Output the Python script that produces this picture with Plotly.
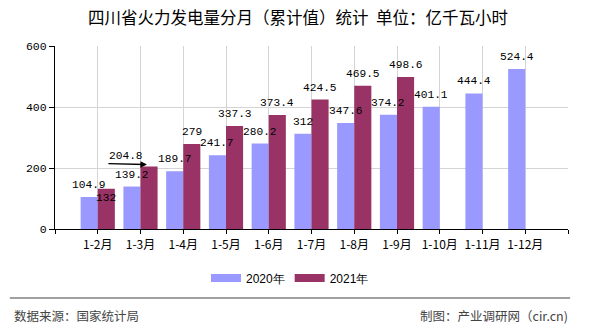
import plotly.graph_objects as go

categories = ["1-2月", "1-3月", "1-4月", "1-5月", "1-6月", "1-7月", "1-8月", "1-9月", "1-10月", "1-11月", "1-12月"]
values_2020 = [104.9, 139.2, 189.7, 241.7, 280.2, 312, 347.6, 374.2, 401.1, 444.4, 524.4]
values_2021 = [132, 204.8, 279, 337.3, 373.4, 424.5, 469.5, 498.6]
series_names = ["2020年", "2021年"]
y_ticks = [0, 200, 400, 600]

COL_2020 = "#9999FF"
COL_2021 = "#993366"
NUM_FONT = dict(family="Liberation Mono, DejaVu Sans Mono, monospace", size=11.2, color="#000000")
CJK = "Noto Sans CJK SC, Noto Sans, sans-serif"

x_idx = list(range(len(categories)))

fig = go.Figure()
fig.add_trace(go.Bar(x=x_idx, y=values_2020, name=series_names[0], marker=dict(color=COL_2020, line=dict(width=0)),
                     showlegend=False, hoverinfo="skip"))
fig.add_trace(go.Bar(x=x_idx[:len(values_2021)], y=values_2021, name=series_names[1],
                     marker=dict(color=COL_2021, line=dict(width=0)), showlegend=False, hoverinfo="skip"))
# legend entries (wide flat swatches)
for name, col in zip(series_names, [COL_2020, COL_2021]):
    fig.add_trace(go.Scatter(x=[None], y=[None], mode="lines", name=name, line=dict(color=col, width=8)))

annotations = []
for i, v in enumerate(values_2020):
    annotations.append(dict(x=i - 0.2, y=v, text=f"{v:g}", showarrow=False, yanchor="bottom", yshift=4,
                            font=NUM_FONT))
for i, v in enumerate(values_2021):
    a = dict(x=i + 0.2, y=v, text=f"{v:g}", showarrow=False, yanchor="bottom", yshift=4, font=NUM_FONT)
    if i == 0:
        a.update(yanchor="middle", yshift=-9)
    if i == 1:
        a.update(xshift=-23, yshift=3)
    annotations.append(a)
# leader arrow for the 1-3月 2021 label
annotations.append(dict(x=1.15, y=values_2021[1], text="", showarrow=True, arrowhead=2, arrowsize=1,
                        arrowwidth=1.3, arrowcolor="#000000", ax=-40, ay=-1, axref="pixel", ayref="pixel",
                        yshift=2))
# footer
annotations.append(dict(xref="paper", yref="paper", x=-0.084, y=-0.475, xanchor="left", yanchor="middle",
                        text="数据来源：国家统计局", showarrow=False, font=dict(family=CJK, size=12.5, color="#444444")))
annotations.append(dict(xref="paper", yref="paper", x=1.004, y=-0.475, xanchor="right", yanchor="middle",
                        text="制图：产业调研网（cir.cn)", showarrow=False, font=dict(family=CJK, size=12.5, color="#444444")))

fig.update_layout(
    width=590, height=330,
    margin=dict(l=55, r=22, t=46, b=101),
    paper_bgcolor="#FFFFFF", plot_bgcolor="#FFFFFF",
    barmode="group", bargap=0.2, bargroupgap=0,
    title=dict(text="四川省火力发电量分月（累计值）统计  单位：亿千瓦小时", x=0.505, xanchor="center",
               y=1 - 18 / 330, yanchor="middle", font=dict(family=CJK, size=16.5, color="#000000")),
    legend=dict(orientation="h", x=0.458, xanchor="center", y=-0.268, yanchor="middle",
                font=dict(family="Liberation Sans, Arial, sans-serif", size=12, color="#000000"),
                itemwidth=30, tracegroupgap=0, bgcolor="rgba(0,0,0,0)"),
    annotations=annotations,
    shapes=[dict(type="line", xref="paper", yref="paper", x0=-0.088, x1=1.004, y0=-0.377, y1=-0.377,
                 line=dict(color="#808080", width=1.5))],
    showlegend=True,
)
fig.update_xaxes(
    range=[-1, 11], tickmode="array",
    tickvals=[-1] + x_idx + [len(categories)],
    ticktext=[""] + categories + [""],
    showgrid=True, gridcolor="#D4D4D4", gridwidth=1,
    showline=True, linecolor="#000000", linewidth=1.2,
    ticks="outside", ticklen=4, tickcolor="#000000",
    tickfont=dict(family=CJK, size=12, color="#000000"),
    zeroline=False, fixedrange=True,
)
fig.update_yaxes(
    range=[0, 600], tickmode="array", tickvals=y_ticks,
    showgrid=True, gridcolor="#D4D4D4", gridwidth=1,
    showline=True, linecolor="#000000", linewidth=1.2,
    ticks="outside", ticklen=5, tickcolor="#000000",
    tickfont=dict(family="Liberation Mono, DejaVu Sans Mono, monospace", size=11.5, color="#000000"),
    zeroline=False, fixedrange=True,
)

fig.write_html("out.html")
